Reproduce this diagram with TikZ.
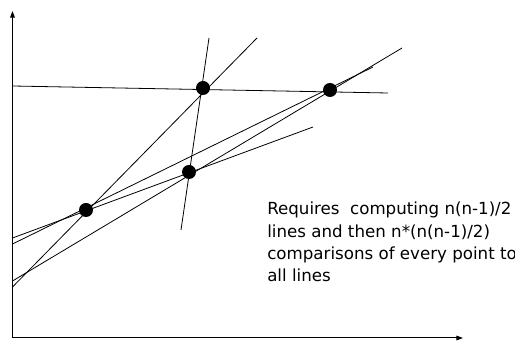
\documentclass[tikz,border=0pt]{standalone}
\usepackage{fontspec}
\setmainfont{DejaVu Sans}
\usetikzlibrary{arrows.meta}
\begin{document}
\begin{tikzpicture}[x=0.75pt,y=-0.75pt,
  ln/.style={line width=0.6pt,black},
  ax/.style={line width=0.75pt,-{Triangle[length=5pt,width=3.5pt]}},
  pt/.style={circle,fill=black,inner sep=0pt,minimum size=10.5pt},
  lbl/.style={align=left,inner sep=0pt,font=\fontsize{12.5}{16.7}\selectfont}]
\useasboundingbox (0,0) rectangle (515,341);
% axes
\coordinate (O) at (12.5,338);
\coordinate (Ytop) at (12.5,11);
\coordinate (Xend) at (463,338);
\draw[ax] (O) -- (Ytop);
\draw[ax] (O) -- (Xend);
% points
\node[pt] (p1) at (86,210) {};
\node[pt] (p2) at (189,172) {};
\node[pt] (p3) at (203,88) {};
\node[pt] (p4) at (330,90) {};
% line end coordinates
\coordinate (aL) at (12.5,238);  \coordinate (aR) at (313,127);
\coordinate (bL) at (12.5,244);  \coordinate (bR) at (373,67);
\coordinate (cL) at (12.5,281);  \coordinate (cR) at (402,48);
\coordinate (dL) at (12.5,287);  \coordinate (dR) at (257,38);
\coordinate (eT) at (209,38);    \coordinate (eB) at (181,230);
\coordinate (fL) at (12.5,86);   \coordinate (fR) at (388,93);
% lines
\draw[ln] (aL) -- (aR);
\draw[ln] (bL) -- (bR);
\draw[ln] (cL) -- (cR);
\draw[ln] (dL) -- (dR);
\draw[ln] (eT) -- (eB);
\draw[ln] (fL) -- (fR);
% text
\node[lbl,anchor=north west] (txt) at (267,202) {Requires\ \ computing n(n-1)/2\\lines and then n*(n(n-1)/2)\\comparisons of every point to\\all lines};
\end{tikzpicture}
\end{document}
